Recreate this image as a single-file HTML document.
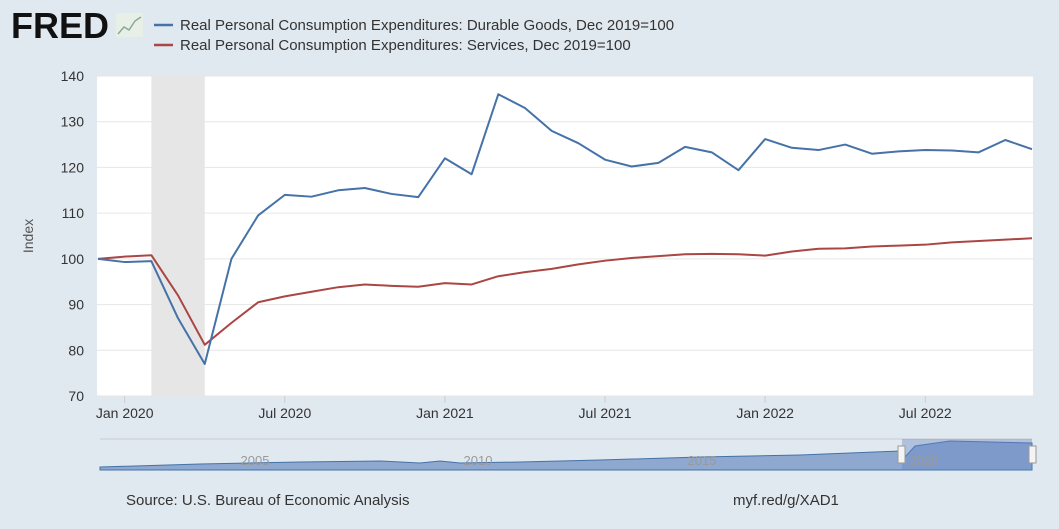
<!DOCTYPE html>
<html><head><meta charset="utf-8"><style>
body{margin:0;width:1059px;height:529px;background:#e1e9f0;font-family:"Liberation Sans",sans-serif;overflow:hidden}
</style></head><body>
<svg id="c" width="1059" height="529" style="position:absolute;left:0;top:0">
<text x="11" y="38" font-size="36" font-weight="bold" fill="#111" font-family="Liberation Sans" textLength="98" lengthAdjust="spacingAndGlyphs">FRED</text>
<g><rect x="116" y="13" width="27" height="24" fill="#e8efe6"/><polyline points="118,34 124,27 129,30 135,21 141,17" fill="none" stroke="#8a9" stroke-width="1.5"/></g>
<line x1="154" y1="25" x2="173" y2="25" stroke="#4572a7" stroke-width="2.5"/>
<text x="180" y="30" font-size="15" fill="#333">Real Personal Consumption Expenditures: Durable Goods, Dec 2019=100</text>
<line x1="154" y1="45" x2="173" y2="45" stroke="#aa4643" stroke-width="2.5"/>
<text x="180" y="50" font-size="15" fill="#333">Real Personal Consumption Expenditures: Services, Dec 2019=100</text>
<rect x="97" y="76" width="936" height="320" fill="#fff"/>
<g id="grid"></g>
<rect id="rec" fill="#e6e6e6"/>
<g id="ax"></g>
<g id="lines"></g>
<text transform="translate(33,236) rotate(-90)" text-anchor="middle" font-size="14" fill="#555">Index</text>
<g>
<line x1="100" y1="439" x2="1032" y2="439" stroke="#ccc"/>
<path d="M100,467 L200,464 L300,462 L380,461 L420,463 L440,461 L460,463 L520,462 L600,460 L700,457 L800,455 L900,451 L905,457 L915,446 L950,441 L1032,443 L1032,470 L100,470Z" fill="#8ea8cf" stroke="#4572a7"/>
<rect x="902" y="439" width="130" height="31" fill="rgba(102,133,194,0.4)"/>
<text x="255" y="465" font-size="13" fill="#999" text-anchor="middle">2005</text>
<text x="478" y="465" font-size="13" fill="#999" text-anchor="middle">2010</text>
<text x="702" y="465" font-size="13" fill="#999" text-anchor="middle">2015</text>
<text x="924" y="465" font-size="13" fill="#999" text-anchor="middle">2020</text>
<rect x="898" y="446" width="7" height="17" fill="#f4f4f4" stroke="#999"/>
<rect x="1029" y="446" width="7" height="17" fill="#f4f4f4" stroke="#999"/>
</g>
<text x="126" y="505" font-size="15" fill="#333">Source: U.S. Bureau of Economic Analysis</text>
<text x="733" y="505" font-size="15" fill="#333">myf.red/g/XAD1</text>
</svg>
<script>
const durable=[100,99.3,99.5,87,77,100,109.5,114,113.6,115,115.5,114.2,113.5,122,118.5,136,133,128,125.3,121.7,120.2,121,124.5,123.3,119.4,126.2,124.3,123.8,125,123,123.5,123.8,123.7,123.3,126,124];
const services=[100,100.5,100.8,92,81.2,86,90.5,91.8,92.8,93.8,94.4,94.1,93.9,94.7,94.4,96.2,97.1,97.8,98.8,99.6,100.2,100.6,101,101.1,101,100.7,101.6,102.2,102.3,102.7,102.9,103.1,103.6,103.9,104.2,104.5];
const yTicks=[70,80,90,100,110,120,130,140];
const xTickIdx=[1,7,13,19,25,31];
const xTickLabels=["Jan 2020","Jul 2020","Jan 2021","Jul 2021","Jan 2022","Jul 2022"];
const recession=[2,4];
const X=i=>98+i*(1032-98)/(durable.length-1);
const Y=v=>396-(v-70)*320/70;
const NS="http://www.w3.org/2000/svg";
const g=document.getElementById('grid'),ax=document.getElementById('ax'),L=document.getElementById('lines');
function mk(t,a,p){const e=document.createElementNS(NS,t);for(const k in a)e.setAttribute(k,a[k]);p.appendChild(e);return e;}
yTicks.forEach(v=>{
 const l=mk('line',{x1:97,x2:1033,y1:Y(v),y2:Y(v),stroke:'#e6e6e6'},g);
 
 
 const t=mk('text',{x:84,y:Y(v)+5,'text-anchor':'end','font-size':14,fill:'#333'},ax);
 t.textContent=v;
 
 
});
xTickIdx.forEach((i,k)=>{
 const l=mk('line',{x1:X(i),x2:X(i),y1:396,y2:403,stroke:'#ccc'},ax);
 
 
 const t=mk('text',{x:X(i),y:418,'text-anchor':'middle','font-size':14,fill:'#333'},ax);
 t.textContent=xTickLabels[k];
 
 
});
const r=document.getElementById('rec');
r.setAttribute('x',X(recession[0]));r.setAttribute('y',76);r.setAttribute('width',X(recession[1])-X(recession[0]));r.setAttribute('height',320);
function line(d,c,n){
 const p=mk('polyline',{points:d.map((v,i)=>X(i)+','+Y(v)).join(' '),fill:'none',stroke:c,'stroke-width':2,'stroke-linejoin':'round'},L);
 
 
}
line(services,'#aa4643','services-line');
line(durable,'#4572a7','durable-goods-line');
</script>
</body></html>
